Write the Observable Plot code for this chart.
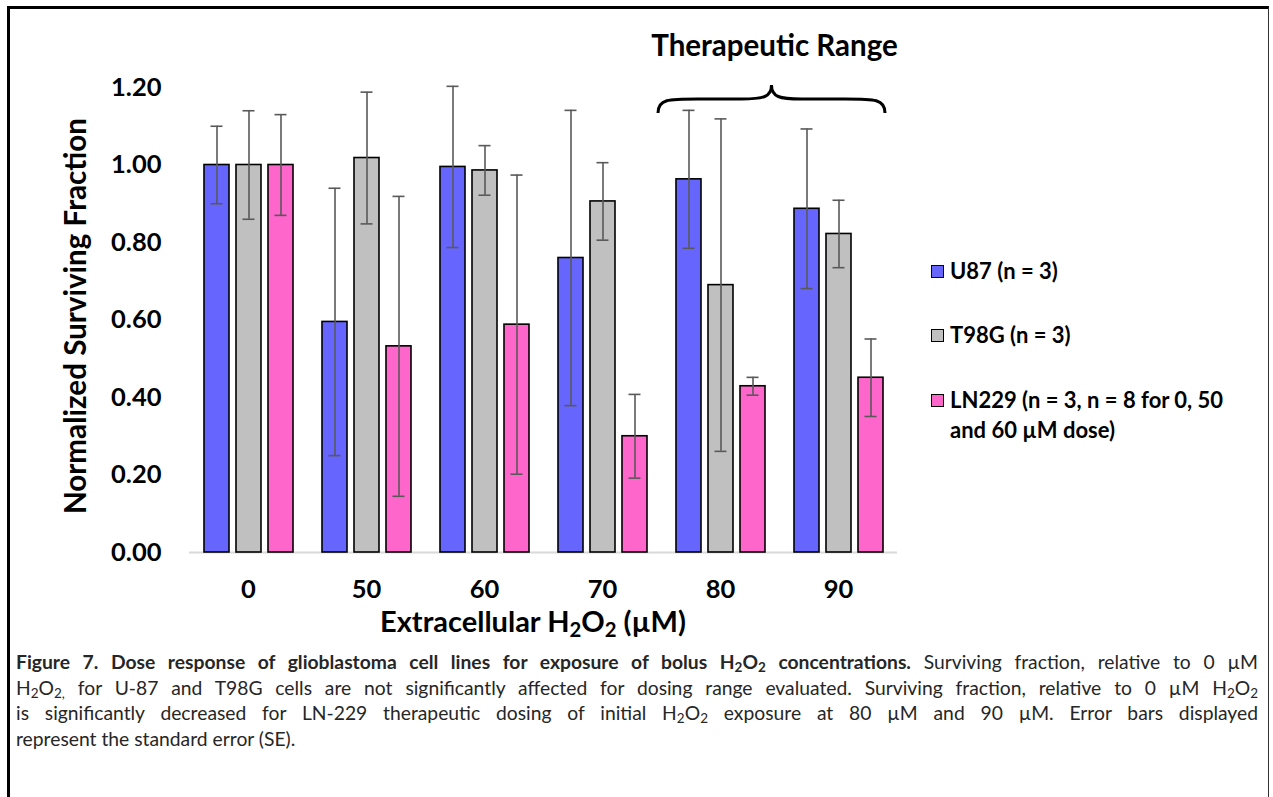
<!DOCTYPE html>
<html>
<head>
<meta charset="utf-8">
<script src="https://cdn.jsdelivr.net/npm/d3@7"></script>
<script src="https://cdn.jsdelivr.net/npm/@observablehq/plot@0.6"></script>
<style>
  html, body { margin: 0; padding: 0; background: #fff; }
  body { width: 1273px; height: 797px; position: relative; overflow: hidden;
         font-family: Lato, "Open Sans", sans-serif; }
  #frame { position: absolute; left: 7px; top: 6px; width: 1262px; height: 820px;
           border-left: 3px solid #000; border-top: 3px solid #000; border-right: 1.5px solid #333; box-sizing: border-box; }
  #chart { position: absolute; left: 0; top: 0; }
  .abs { position: absolute; white-space: nowrap; color: #000; font-weight: bold; }
  .legend-item { position: absolute; font-size: 22px; font-weight: bold; line-height: 30px; white-space: nowrap; }
  .sw { position: absolute; width: 13px; height: 13px; border: 1.5px solid #000; box-sizing: border-box; }
  .cap { position: absolute; left: 16px; width: 1242px; font-size: 19.3px; line-height: 26px; color: #262626;
         text-align: justify; text-align-last: justify; white-space: normal; }
  .cap.last { text-align-last: left; }
  sub { font-size: 0.7em; vertical-align: -0.25em; line-height: 0; }
</style>
</head>
<body>
<div id="frame"></div>
<div id="chart"></div>
<script>
// ---- data ----
const doses = ["0", "50", "60", "70", "80", "90"];
const seriesNames = ["U87", "T98G", "LN229"];
const seriesLabels = ["U87 (n = 3)", "T98G (n = 3)", "LN229 (n = 3, n = 8 for 0, 50"];
const seriesColors = ["#6666ff", "#c0c0c0", "#ff66cc"];
const u87Values  = [1.000, 0.595, 0.995, 0.760, 0.963, 0.887];
const u87SE      = [0.100, 0.345, 0.208, 0.381, 0.178, 0.206];
const t98gValues = [1.000, 1.018, 0.986, 0.906, 0.690, 0.822];
const t98gSE     = [0.140, 0.170, 0.064, 0.100, 0.429, 0.087];
const ln229Values= [1.000, 0.532, 0.588, 0.300, 0.429, 0.451];
const ln229SE    = [0.130, 0.387, 0.386, 0.108, 0.023, 0.100];
const yTicks = [0, 0.2, 0.4, 0.6, 0.8, 1.0, 1.2];
const therapeuticDoses = ["80", "90"];

const FONT = 'Lato, "Open Sans", sans-serif';

const valuesBySeries = [u87Values, t98gValues, ln229Values];
const seBySeries = [u87SE, t98gSE, ln229SE];
const data = [];
doses.forEach((dose, i) => {
  seriesNames.forEach((s, j) => {
    data.push({dose, series: s, value: valuesBySeries[j][i], se: seBySeries[j][i]});
  });
});

const plot = Plot.plot({
  width: 910,
  height: 640,
  marginLeft: 189,
  marginRight: 13,
  marginTop: 87,
  marginBottom: 88,
  style: {fontFamily: FONT, fontSize: "25.5px", fontWeight: "bold", color: "#000", background: "transparent"},
  fx: {domain: doses, padding: 0, label: null, tickSize: 0, tickPadding: 27, axis: "bottom"},
  x: {domain: seriesNames, paddingInner: 0.22, paddingOuter: 0.45, axis: null},
  y: {domain: [0, 1.2], ticks: yTicks, tickFormat: d3.format(".2f"), tickSize: 0, tickPadding: 28, label: null},
  color: {domain: seriesNames, range: seriesColors},
  marks: [
    Plot.ruleY([0], {stroke: "#d9d9d9", strokeWidth: 2}),
    Plot.barY(data, {fx: "dose", x: "series", y: "value", fill: "series", stroke: "#000", strokeWidth: 1.6}),
    Plot.ruleX(data, {fx: "dose", x: "series", y1: d => d.value - d.se, y2: d => d.value + d.se, stroke: "#595959", strokeWidth: 1.6}),
    Plot.tickY(data, {fx: "dose", x: "series", y: d => d.value - d.se, stroke: "#595959", strokeWidth: 1.6, insetLeft: 6.5, insetRight: 6.5}),
    Plot.tickY(data, {fx: "dose", x: "series", y: d => d.value + d.se, stroke: "#595959", strokeWidth: 1.6, insetLeft: 6.5, insetRight: 6.5})
  ]
});
document.getElementById("chart").appendChild(plot);

// ---- brace over therapeutic range, positioned from the fx scale ----
const fx = plot.scale("fx");
const yS = plot.scale("y");
const bw = fx.bandwidth;
const bx0 = fx.apply(therapeuticDoses[0]) - 3;
const bx1 = fx.apply(therapeuticDoses[therapeuticDoses.length - 1]) + bw - 12;
const bcx = (bx0 + bx1) / 2;
const yEnd = yS.apply(1.2) + 26, yMid = yS.apply(1.2) + 12, yTop = yS.apply(1.2) - 2;
const ns = "http://www.w3.org/2000/svg";
const path = document.createElementNS(ns, "path");
path.setAttribute("d",
  `M${bx0},${yEnd} C${bx0},${yMid} ${bx0 + 10},${yMid} ${bx0 + 40},${yMid} ` +
  `L${bcx - 30},${yMid} C${bcx - 8},${yMid} ${bcx},${yMid - 2} ${bcx},${yTop} ` +
  `C${bcx},${yMid - 2} ${bcx + 8},${yMid} ${bcx + 30},${yMid} ` +
  `L${bx1 - 40},${yMid} C${bx1 - 10},${yMid} ${bx1},${yMid} ${bx1},${yEnd}`);
path.setAttribute("fill", "none");
path.setAttribute("stroke", "#000");
path.setAttribute("stroke-width", "3");
plot.appendChild(path);

const tr = document.createElementNS(ns, "text");
tr.setAttribute("x", bcx + 3);
tr.setAttribute("y", 56);
tr.setAttribute("text-anchor", "middle");
tr.setAttribute("font-size", "29.5");
tr.setAttribute("font-weight", "bold");
tr.setAttribute("fill", "#000");
tr.textContent = "Therapeutic Range";
plot.appendChild(tr);

// ---- axis titles (HTML for subscripts) ----
function addDiv(html, css) {
  const d = document.createElement("div");
  d.className = "abs";
  d.innerHTML = html;
  Object.assign(d.style, css);
  document.body.appendChild(d);
  return d;
}
addDiv("Normalized Surviving Fraction", {left: "75px", top: "316px", fontSize: "29.6px",
  transform: "translate(-50%, -50%) rotate(-90deg)", lineHeight: "1"});
addDiv("Extracellular H<sub>2</sub>O<sub>2</sub> (µM)", {left: "533px", top: "620px", fontSize: "29px",
  transform: "translate(-50%, -50%)", lineHeight: "1"});

// ---- legend ----
const legendTops = [271, 335, 400];
seriesLabels.forEach((lab, i) => {
  const sw = document.createElement("div");
  sw.className = "sw";
  sw.style.left = "931px";
  sw.style.top = (legendTops[i] - 6) + "px";
  sw.style.background = seriesColors[i];
  document.body.appendChild(sw);
  const t = document.createElement("div");
  t.className = "legend-item";
  t.style.left = "950px";
  t.style.top = (legendTops[i] - 15) + "px";
  t.innerHTML = lab + (i === 2 ? "<br>and 60 µM dose)" : "");
  document.body.appendChild(t);
});

// ---- caption ----
const capLines = [
  "<b>Figure 7. Dose response of glioblastoma cell lines for exposure of bolus H<sub>2</sub>O<sub>2</sub> concentrations.</b> Surviving fraction, relative to 0 µM",
  "H<sub>2</sub>O<sub>2,</sub> for U-87 and T98G cells are not significantly affected for dosing range evaluated. Surviving fraction, relative to 0 µM H<sub>2</sub>O<sub>2</sub>",
  "is significantly decreased for LN-229 therapeutic dosing of initial H<sub>2</sub>O<sub>2</sub> exposure at 80 µM and 90 µM. Error bars displayed",
  "represent the standard error (SE)."
];
const capTops = [649, 675, 700, 726];
capLines.forEach((html, i) => {
  const d = document.createElement("div");
  d.className = "cap" + (i === capLines.length - 1 ? " last" : "");
  d.style.top = capTops[i] + "px";
  d.innerHTML = html;
  document.body.appendChild(d);
});
</script>
</body>
</html>
